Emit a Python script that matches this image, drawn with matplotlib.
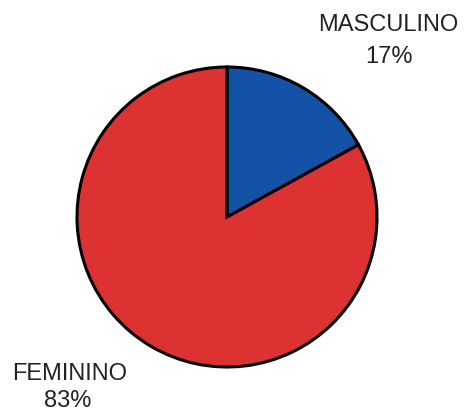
import matplotlib
matplotlib.use("Agg")
import matplotlib.pyplot as plt

# data
labels = ["MASCULINO", "FEMININO"]
values = [17, 83]
colors = ["#1452a8", "#dc3232"]

fig = plt.figure(figsize=(4.65, 4.15), dpi=100)
ax = fig.add_axes([0, 0, 1, 1])

ax.pie(values, colors=colors, startangle=90, counterclock=False,
       center=(227, 198), radius=150, frame=True,
       wedgeprops=dict(edgecolor="black", linewidth=2.2))
ax.set_xlim(0, 465)
ax.set_ylim(0, 415)
ax.set_aspect("equal")
ax.axis("off")

font = dict(family="Liberation Sans", fontsize=17, color="#222222",
            ha="center", va="center")
# label positions (pixels from top-left)
ax.text(388, 415 - 25, labels[0], **font)
ax.text(389, 415 - 57, "%d%%" % values[0], **font)
ax.text(70, 415 - 374, labels[1], **font)
ax.text(68, 415 - 401, "%d%%" % values[1], **font)

fig.savefig("out.png", dpi=100)
